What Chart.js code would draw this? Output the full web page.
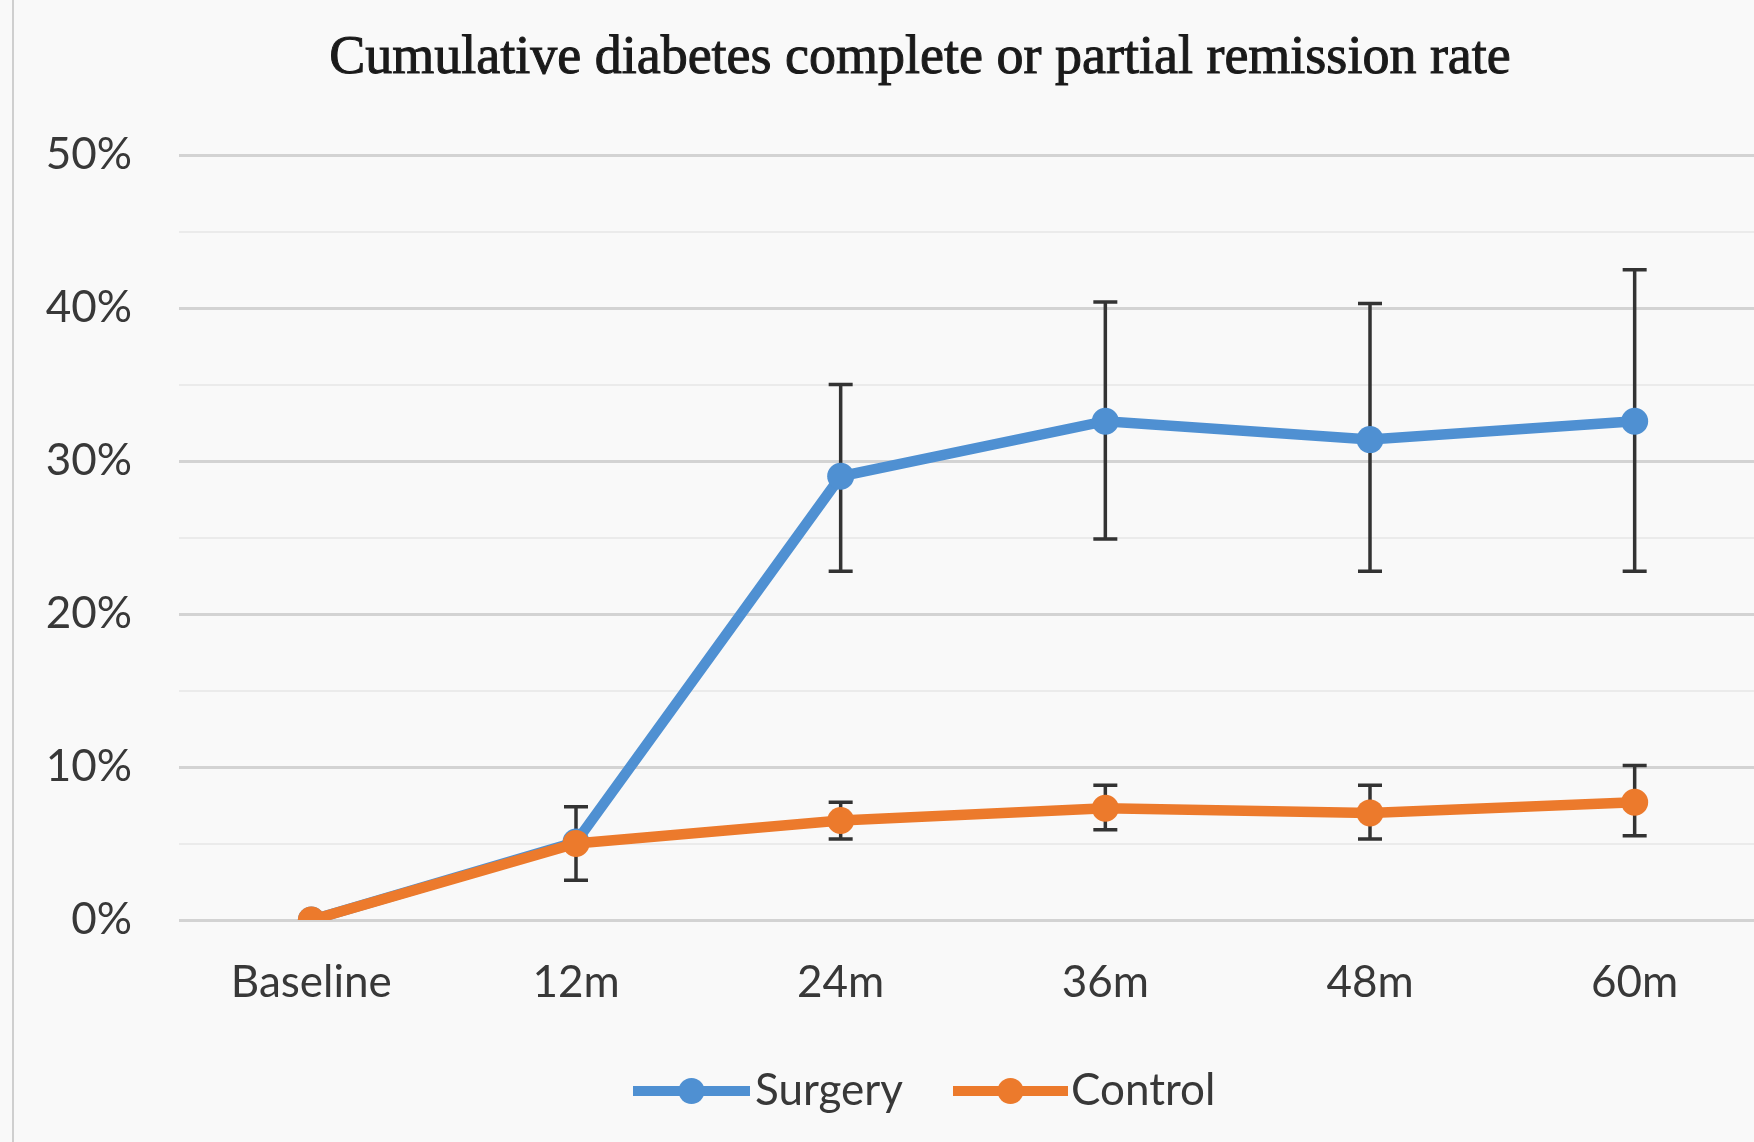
<!DOCTYPE html>
<html>
<head>
<meta charset="utf-8">
<title>Cumulative diabetes complete or partial remission rate</title>
<script src="https://cdn.jsdelivr.net/npm/chart.js@4.4.1/dist/chart.umd.min.js"></script>
<style>
  html, body { margin: 0; padding: 0; background: #f9f9f9; overflow: hidden; }
  #wrap { width: 1754px; height: 1142px; overflow: hidden; position: relative; }
  canvas { display: block; }
</style>
</head>
<body>
<div id="wrap"><canvas id="chart" width="1800" height="1142"></canvas></div>
<script>
// Follow-up time points
const categories = ['Baseline', '12m', '24m', '36m', '48m', '60m'];

// Remission rate (%) and error-bar bounds per group
const surgery     = [0, 5.1, 29.0, 32.6, 31.4, 32.6];
const surgeryLow  = [null, 2.6, 22.8, 24.9, 22.8, 22.8];
const surgeryHigh = [null, 7.4, 35.0, 40.4, 40.3, 42.5];

const control     = [0, 5.0, 6.5, 7.3, 7.0, 7.7];
const controlLow  = [null, null, 5.3, 5.9, 5.3, 5.5];
const controlHigh = [null, null, 7.7, 8.8, 8.8, 10.1];

// Y axis: labelled every 10%, lighter lines halfway between
const yMin = 0, yMax = 50, yStep = 5, yLabelEvery = 10;

const titleText = 'Cumulative diabetes complete or partial remission rate';
const seriesNames = ['Surgery', 'Control'];
const seriesColors = ['#4f90d2', '#ec7a2c'];
const errLow = [surgeryLow, controlLow];
const errHigh = [surgeryHigh, controlHigh];

const labelFont = { family: 'Lato, "Open Sans", sans-serif', size: 44 };
const labelColor = '#383838';

// Page background and the thin frame line on the left
const backgroundPlugin = {
  id: 'background',
  beforeDraw(chart) {
    const { ctx, width, height } = chart;
    ctx.save();
    ctx.fillStyle = '#f9f9f9';
    ctx.fillRect(0, 0, width, height);
    ctx.strokeStyle = '#cfcfcf';
    ctx.lineWidth = 2;
    ctx.beginPath();
    ctx.moveTo(13, 0);
    ctx.lineTo(13, height);
    ctx.stroke();
    ctx.restore();
  }
};

// Vertical error bars with caps, drawn beneath the lines and markers
const errorBarPlugin = {
  id: 'errorBars',
  beforeDatasetsDraw(chart) {
    const { ctx, scales } = chart;
    ctx.save();
    ctx.strokeStyle = '#333333';
    ctx.lineWidth = 3.5;
    chart.data.datasets.forEach((ds, di) => {
      const lo = errLow[di], hi = errHigh[di];
      ds.data.forEach((v, i) => {
        if (lo[i] == null || hi[i] == null) return;
        const x = scales.x.getPixelForValue(i);
        const yLo = scales.y.getPixelForValue(lo[i]);
        const yHi = scales.y.getPixelForValue(hi[i]);
        const cap = 12;
        ctx.beginPath();
        ctx.moveTo(x, yHi); ctx.lineTo(x, yLo);
        ctx.moveTo(x - cap, yHi); ctx.lineTo(x + cap, yHi);
        ctx.moveTo(x - cap, yLo); ctx.lineTo(x + cap, yLo);
        ctx.stroke();
      });
    });
    ctx.restore();
  }
};

// Title and line-with-marker legend
const annotationsPlugin = {
  id: 'annotations',
  afterDraw(chart) {
    const { ctx } = chart;
    ctx.save();
    ctx.fillStyle = '#1a1a1a';
    ctx.strokeStyle = '#1a1a1a';
    ctx.lineWidth = 1;
    ctx.font = '54px "Liberation Serif", "Times New Roman", serif';
    ctx.textAlign = 'center';
    ctx.textBaseline = 'alphabetic';
    ctx.fillText(titleText, 920, 73);
    ctx.strokeText(titleText, 920, 73);

    const legendY = 1091;
    const items = [
      { x0: 633, x1: 750, tx: 755 },
      { x0: 953, x1: 1068, tx: 1071 }
    ];
    ctx.font = labelFont.size + 'px ' + labelFont.family;
    ctx.textAlign = 'left';
    ctx.textBaseline = 'middle';
    items.forEach((it, k) => {
      ctx.strokeStyle = seriesColors[k];
      ctx.fillStyle = seriesColors[k];
      ctx.lineWidth = 10;
      ctx.beginPath();
      ctx.moveTo(it.x0, legendY); ctx.lineTo(it.x1, legendY);
      ctx.stroke();
      ctx.beginPath();
      ctx.arc((it.x0 + it.x1) / 2, legendY, 13, 0, Math.PI * 2);
      ctx.fill();
      ctx.fillStyle = labelColor;
      ctx.fillText(seriesNames[k], it.tx, legendY);
    });
    ctx.restore();
  }
};

const datasets = [surgery, control].map((values, k) => ({
  label: seriesNames[k],
  data: values,
  borderColor: seriesColors[k],
  backgroundColor: seriesColors[k],
  borderWidth: 10.5,
  pointRadius: 13.5,
  pointHoverRadius: 13.5,
  pointBorderWidth: 0,
  pointBackgroundColor: seriesColors[k],
  tension: 0,
  order: k === 0 ? 1 : 0
}));

new Chart(document.getElementById('chart'), {
  type: 'line',
  data: { labels: categories, datasets },
  options: {
    responsive: false,
    animation: false,
    events: [],
    layout: { padding: { top: 155, bottom: 122, left: 0, right: 33 } },
    plugins: {
      legend: { display: false },
      title: { display: false },
      tooltip: { enabled: false }
    },
    scales: {
      x: {
        offset: true,
        grid: { display: false, drawTicks: false },
        border: { display: false },
        ticks: { font: labelFont, color: labelColor, padding: 36, maxRotation: 0 },
        afterFit(scale) { scale.height = 100; }
      },
      y: {
        min: yMin,
        max: yMax,
        grid: {
          drawTicks: false,
          color: c => (c.tick.value % yLabelEvery === 0 ? '#d3d3d3' : '#ebebeb'),
          lineWidth: c => (c.tick.value % yLabelEvery === 0 ? 3 : 2)
        },
        border: { display: false },
        ticks: {
          stepSize: yStep,
          font: labelFont,
          color: labelColor,
          padding: 47,
          callback: v => (v % yLabelEvery === 0 ? v + '%' : '')
        },
        afterFit(scale) { scale.width = 179; }
      }
    }
  },
  plugins: [backgroundPlugin, errorBarPlugin, annotationsPlugin]
});
</script>
</body>
</html>
